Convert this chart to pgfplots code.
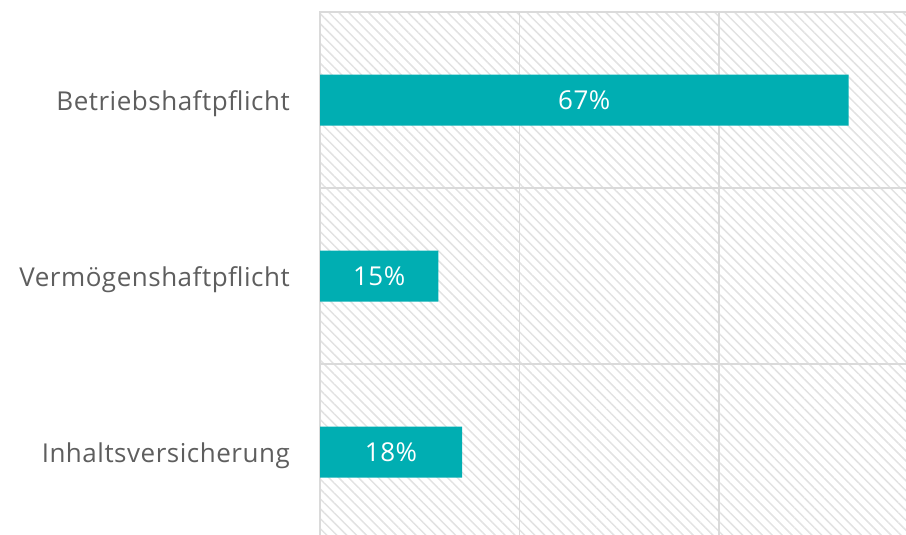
\documentclass[border=0pt]{standalone}
\usepackage{pgfplots}
\pgfplotsset{compat=1.18}
\usepackage{pgfplotstable}
\usetikzlibrary{patterns.meta}
\usepackage{fontspec}
\setmainfont{Open Sans}
\newfontfamily\lblfont[LetterSpace=2]{Open Sans}
\definecolor{barteal}{HTML}{00AEB2}
\definecolor{gridgray}{HTML}{DADADA}
\definecolor{hatchgray}{HTML}{E2E2E2}
\definecolor{labelgray}{HTML}{5E5E5E}

\pgfplotstableread{
y v
0 67
1 15
2 18
}\data

\begin{document}
\begin{tikzpicture}
\begin{axis}[
  at={(320bp,-12bp)}, anchor=north west,
  scale only axis, width=588.6bp, height=528bp,
  xmin=0, xmax=74.6, ymin=-0.5, ymax=2.5, y dir=reverse,
  xtick={25.3,50.6}, xticklabels={,,},
  xmajorgrids,
  ytick={0,1,2},
  yticklabels={Betriebshaftpflicht, Vermögenshaftpflicht, Inhaltsversicherung},
  extra y ticks={0.5,1.5}, extra y tick labels={,},
  extra y tick style={grid=major},
  major tick length=0pt,
  tick style={draw=none},
  axis line style={draw=gridgray, line width=1.5bp},
  grid style={draw=gridgray, line width=1.5bp},
  yticklabel style={anchor=base east, inner sep=0pt, xshift=-30bp, yshift=-10bp,
    font=\fontsize{26bp}{30bp}\lblfont, text=labelgray},
  axis background/.style={pattern={Lines[angle=-45,distance=7bp,line width=1.5bp]}, pattern color=hatchgray},
]
\addplot[xbar, bar width=51bp, fill=barteal, draw=none] table[x=v,y=y]{\data};
\addplot[draw=none, mark=none, point meta=\thisrow{v},
  /pgf/number format/assume math mode=true,
  nodes near coords={\pgfmathprintnumber{\pgfplotspointmeta}\%},
  every node near coord/.style={anchor=center, text=white, font=\fontsize{26bp}{30bp}\lblfont}]
  table[x expr=\thisrow{v}/2, y=y]{\data};
\end{axis}
\pgfresetboundingbox
\useasboundingbox (0,0) rectangle (906bp,-535bp);
\end{tikzpicture}
\end{document}
